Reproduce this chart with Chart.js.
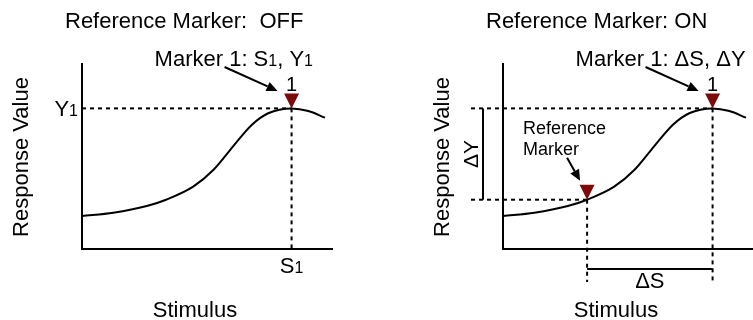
<!DOCTYPE html>
<html lang="en">
<head>
<meta charset="UTF-8">
<title>Reference Marker</title>
<script src="https://cdn.jsdelivr.net/npm/chart.js@4.4.0/dist/chart.umd.min.js"></script>
<style>
  html, body { margin: 0; padding: 0; background: #fff; }
  #wrap { position: relative; width: 753px; height: 320px; overflow: hidden; }
  canvas { position: absolute; top: 0; }
</style>
</head>
<body>
<div id="wrap">
  <canvas id="leftChart" width="376" height="320" style="left:0"></canvas>
  <canvas id="rightChart" width="377" height="320" style="left:376px"></canvas>
</div>
<script>
// curve (x: stimulus, y: response, both 0..100)
const stimulus = [0, 12.5, 25.8, 33.5, 44.3, 52.3, 59.0, 67.6, 74.2, 83.5, 90.2, 96.8];
const response = [17.7, 19.5, 23.1, 26.5, 33.5, 42.5, 53.2, 66.7, 73.0, 75.6, 74.2, 70.6];
const marker1 = 9;     // index of Marker 1 on the curve
const refMarker = 3;   // index of the reference marker
const panelTitles = ['Reference Marker:  OFF', 'Reference Marker: ON'];
const xTitle = 'Stimulus';
const yTitle = 'Response Value';

const ink = '#000';
const markerColor = '#7d0a0a';
const FONT = '"Liberation Sans", Arial, Helvetica, sans-serif';

function font(size) { return size + 'px ' + FONT; }

// draw mixed size text (for the small subscripts)
function runs(ctx, parts, x, y, align) {
    let w = 0;
    for (const [t, s] of parts) { ctx.font = font(s); w += ctx.measureText(t).width; }
    if (align === 'center') x -= w / 2;
    if (align === 'right') x -= w;
    ctx.textAlign = 'left';
    ctx.textBaseline = 'alphabetic';
    for (const [t, s] of parts) {
        ctx.font = font(s);
        ctx.fillText(t, x, y);
        x += ctx.measureText(t).width;
    }
}

function rotated(ctx, text, size, x, y) {
    ctx.save();
    ctx.translate(x, y);
    ctx.rotate(-Math.PI / 2);
    ctx.font = font(size);
    ctx.textAlign = 'center';
    ctx.textBaseline = 'alphabetic';
    ctx.fillText(text, 0, 0);
    ctx.restore();
}

function line(ctx, x1, y1, x2, y2, dashed) {
    ctx.setLineDash(dashed ? [4, 4] : []);
    ctx.beginPath();
    ctx.moveTo(x1, y1);
    ctx.lineTo(x2, y2);
    ctx.stroke();
    ctx.setLineDash([]);
}

function arrow(ctx, x1, y1, x2, y2) {
    const ang = Math.atan2(y2 - y1, x2 - x1);
    const len = 11, half = 5;
    const bx = x2 - len * Math.cos(ang), by = y2 - len * Math.sin(ang);
    line(ctx, x1, y1, bx, by, false);
    ctx.beginPath();
    ctx.moveTo(x2, y2);
    ctx.lineTo(bx + half * Math.sin(ang), by - half * Math.cos(ang));
    ctx.lineTo(bx - half * Math.sin(ang), by + half * Math.cos(ang));
    ctx.closePath();
    ctx.fill();
}

function triangle(ctx, x, y) {
    ctx.fillStyle = markerColor;
    ctx.beginPath();
    ctx.moveTo(x, y);
    ctx.lineTo(x - 7.5, y - 15);
    ctx.lineTo(x + 7.5, y - 15);
    ctx.closePath();
    ctx.fill();
    ctx.fillStyle = ink;
}

const annotations = {
    id: 'annotations',
    afterDraw(chart, args, o) {
        const { ctx, chartArea: a, scales: { x, y } } = chart;
        const mx = x.getPixelForValue(stimulus[marker1]);
        const my = y.getPixelForValue(response[marker1]);
        ctx.save();
        ctx.strokeStyle = ink;
        ctx.fillStyle = ink;
        ctx.lineWidth = 2;

        // axes
        ctx.beginPath();
        ctx.moveTo(a.left, a.top);
        ctx.lineTo(a.left, a.bottom);
        ctx.lineTo(o.axisEnd === 'edge' ? chart.width : a.right, a.bottom);
        ctx.stroke();

        // titles
        runs(ctx, [[o.title, 22]], a.left - 17, 28, 'left');
        runs(ctx, [[xTitle, 22]], a.left + 113, 317, 'center');
        rotated(ctx, yTitle, 22, a.left - 54, 157);

        if (!o.refOn) {
            line(ctx, a.left, my, mx, my, true);
            line(ctx, mx, my, mx, a.bottom, true);
            runs(ctx, [['Y', 22], ['1', 16]], a.left - 4, my + 8, 'right');
            runs(ctx, [['S', 22], ['1', 16]], mx, my + 165, 'center');
            runs(ctx, [['Marker 1: S', 22], ['1', 16], [', Y', 22], ['1', 16]], mx - 137, 66, 'left');
        } else {
            const rx = x.getPixelForValue(stimulus[refMarker]);
            const ry = y.getPixelForValue(response[refMarker]);
            line(ctx, a.left - 32, my, mx, my, true);
            line(ctx, a.left - 32, ry, rx, ry, true);
            line(ctx, mx, my, mx, a.bottom + 33, true);
            line(ctx, rx, ry, rx, a.bottom + 33, true);
            // delta brackets
            line(ctx, a.left - 20, my, a.left - 20, ry, false);
            line(ctx, rx, a.bottom + 20, mx, a.bottom + 20, false);
            rotated(ctx, '\u0394Y', 21, a.left - 25, (my + ry) / 2);
            runs(ctx, [['\u0394S', 22]], (rx + mx) / 2, a.bottom + 39, 'center');
            runs(ctx, [['Marker 1: \u0394S, \u0394Y', 22]], mx - 137, 66, 'left');
            // reference marker
            runs(ctx, [['Reference', 18]], rx - 64, ry - 66, 'left');
            runs(ctx, [['Marker', 18]], rx - 64, ry - 45, 'left');
            arrow(ctx, rx - 20, ry - 42, rx - 7, ry - 19);
            triangle(ctx, rx, ry);
        }

        // marker 1
        arrow(ctx, mx - 67, 67, mx - 14, 91);
        runs(ctx, [['1', 20]], mx, my - 17, 'center');
        triangle(ctx, mx, my);
        ctx.restore();
    }
};

function makePanel(id, title, refOn, padding, xMax) {
    return new Chart(document.getElementById(id), {
        type: 'line',
        data: {
            datasets: [{
                data: stimulus.map((s, i) => ({ x: s, y: response[i] })),
                borderColor: ink,
                borderWidth: 2,
                pointRadius: 0,
                cubicInterpolationMode: 'monotone',
                fill: false
            }]
        },
        options: {
            responsive: false,
            animation: false,
            devicePixelRatio: 1,
            layout: { padding: padding },
            scales: {
                x: { type: 'linear', min: 0, max: xMax, display: false },
                y: { min: 0, max: 100, display: false }
            },
            plugins: {
                legend: { display: false },
                tooltip: { enabled: false },
                annotations: { title: title, refOn: refOn, axisEnd: refOn ? 'edge' : 'area' }
            }
        },
        plugins: [annotations]
    });
}

makePanel('leftChart', panelTitles[0], false, { left: 82, right: 43, top: 63, bottom: 71 }, 100);
makePanel('rightChart', panelTitles[1], true, { left: 127, right: 0, top: 63, bottom: 71 }, 99.6);
</script>
</body>
</html>
